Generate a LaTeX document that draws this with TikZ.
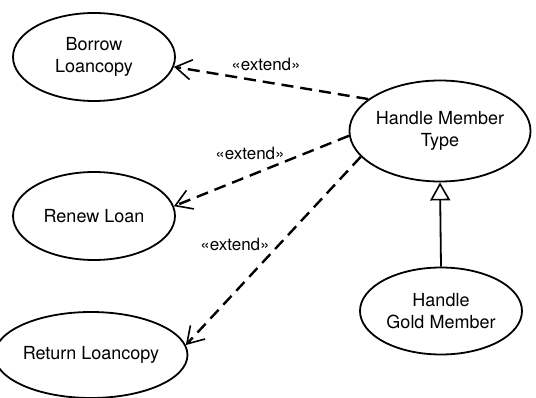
\documentclass[tikz,border=0pt]{standalone}
\usepackage{fontspec}
\setmainfont{TeX Gyre Heros}
\usetikzlibrary{shapes.geometric,arrows.meta}
\begin{document}
\begin{tikzpicture}[x=1pt,y=-1pt,
  uc/.style={ellipse,draw,line width=1.8pt,inner sep=0pt,align=center,
    font=\fontsize{18}{22}\selectfont},
  ext/.style={dashed,line width=2.4pt,dash pattern=on 12pt off 7pt,
    -{Straight Barb[length=16pt,width=20pt,line width=1.6pt]}},
  lbl/.style={font=\fontsize{17}{20}\selectfont,inner sep=0pt},
  gen/.style={line width=1.8pt,-{Triangle[open,length=18pt,width=20pt,line width=1.6pt]}}]
\useasboundingbox (0,0) rectangle (536,398);
\node[uc,minimum width=162pt,minimum height=88pt] (borrow) at (94,57) {Borrow\\Loancopy};
\node[uc,minimum width=162pt,minimum height=88pt] (renew) at (94,216) {Renew Loan};
\node[uc,minimum width=165pt,minimum height=86pt] (return) at (91,355) {Return Loancopy};
\node[uc,minimum width=165pt,minimum height=101pt] (hmt) at (440,131) {Handle Member\\Type};
\node[uc,minimum width=162pt,minimum height=87pt] (hgm) at (441,311) {Handle\\Gold Member};
\draw[ext] (hmt.156.8) -- (borrow.-7);
\draw[ext] (hmt.183) -- (renew.7.6);
\draw[ext] (hmt.198) -- (return.6);
\draw[gen] (hgm.north) -- (hmt.south);
\node[lbl] (l1) at (266,64) {«extend»};
\node[lbl] (l2) at (250,153) {«extend»};
\node[lbl] (l3) at (235,244) {«extend»};
\end{tikzpicture}
\end{document}
